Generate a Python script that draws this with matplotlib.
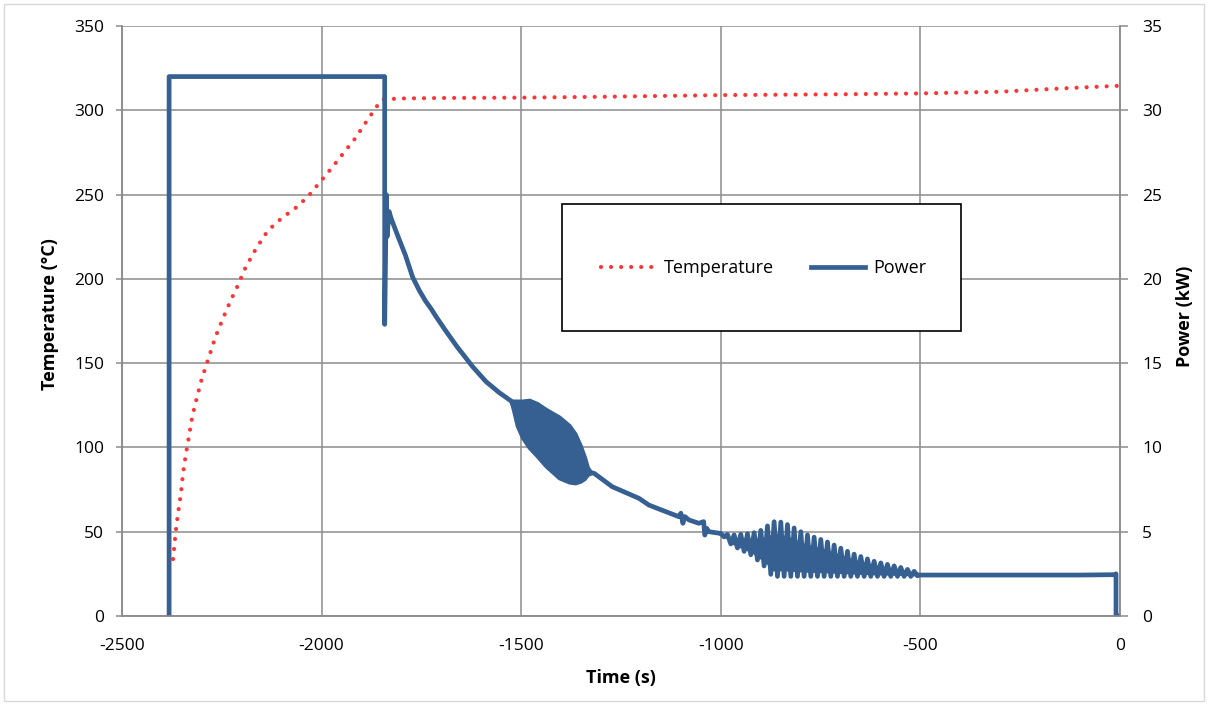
import numpy as np
from matplotlib import pyplot as plt
from matplotlib.patches import Rectangle

plt.rcParams['font.family'] = ['Open Sans', 'DejaVu Sans']
plt.rcParams['axes.unicode_minus'] = False

# temperature trace (left axis, degC)
temp_t = [-2372, -2365, -2359, -2352, -2347, -2340, -2332, -2324, -2313,
          -2301, -2286, -2266, -2248, -2230, -2210, -2192, -2169, -2145,
          -2133, -2100, -2060, -2030, -1974, -1917, -1863, -1847, -1800,
          -1700, -1500, -1300, -1000, -700, -500, -300, -200, -100, -5]
temp_c = [33.8, 51, 62, 73.5, 85, 96, 107, 118.4, 129,
          140, 151, 165.5, 176, 186, 196, 206, 216, 225,
          229, 236, 243, 250, 266, 283, 302, 306.5, 307,
          307.3, 307.5, 308, 309, 309.5, 310, 311, 312.3, 313.5, 314.5]

# power trace (right axis, kW) - heating step and decay
power_t = [-2382, -2382, -1842, -1842, -1838, -1836, -1831, -1826, -1810,
           -1800, -1790, -1772, -1755, -1740, -1725, -1713, -1690, -1660,
           -1640, -1622, -1588, -1555, -1525]
power_kw = [0, 32, 32, 17.3, 25.0, 22.5, 24.0, 23.6, 22.6,
            22.0, 21.4, 20.1, 19.3, 18.7, 18.2, 17.75, 16.95, 15.95,
            15.35, 14.8, 13.9, 13.25, 12.75]

# first (dense) oscillation band, envelope
osc1_t = [-1525, -1518, -1510, -1497, -1480, -1460, -1438, -1405, -1380,
          -1365, -1352, -1342, -1334, -1325]
osc1_hi = [12.75, 12.75, 12.75, 12.75, 12.8, 12.6, 12.25, 11.8, 11.3,
           10.8, 10.1, 9.45, 8.8, 8.5]
osc1_lo = [12.75, 12.1, 11.3, 10.6, 10.0, 9.5, 8.9, 8.2, 7.95,
           7.9, 8.0, 8.15, 8.4, 8.5]

mid_t = [-1317, -1272, -1205, -1180, -1105, -1100, -1095, -1090, -1080,
         -1055, -1043, -1040, -1035, -1030, -1001]
mid_kw = [8.46, 7.67, 6.98, 6.58, 5.89, 6.1, 5.5, 5.9, 5.7,
          5.5, 5.6, 4.8, 5.2, 5.0, 4.9]

# second oscillation band, envelope
osc2_t = [-1000, -972, -922, -897, -880, -872, -859, -830, -788, -738,
          -672, -613, -555, -513, -505]
osc2_hi = [4.9, 4.8, 4.9, 5.1, 5.4, 5.55, 5.65, 5.4, 4.85, 4.45,
           3.72, 3.22, 2.92, 2.63, 2.45]
osc2_lo = [4.9, 4.2, 3.6, 3.1, 2.7, 2.35, 2.35, 2.35, 2.35, 2.35,
           2.35, 2.35, 2.35, 2.35, 2.4]
osc2_half_period = 8.35

tail_t = [-505, -100, -15, -10, -10, -6]
tail_kw = [2.43, 2.43, 2.45, 2.5, 0, 0]

RED = '#ff3535'
BLUE = '#376092'
GRID = '#8c8c8c'

# build the power line
zz_t = np.arange(osc2_t[0], osc2_t[-1], osc2_half_period)
zz_hi = np.interp(zz_t, osc2_t, osc2_hi)
zz_lo = np.interp(zz_t, osc2_t, osc2_lo)
zz_kw = np.where(np.arange(len(zz_t)) % 2 == 0, zz_hi, zz_lo)
osc1_mid = (np.array(osc1_hi) + np.array(osc1_lo)) / 2
line_t = np.concatenate([power_t, osc1_t, mid_t, zz_t, tail_t])
line_kw = np.concatenate([power_kw, osc1_mid, mid_kw, zz_kw, tail_kw])

fig = plt.figure(figsize=(12.08, 7.04), dpi=100)
ax = fig.add_axes([122 / 1208, 88 / 704, 998 / 1208, 590 / 704])
ax2 = ax.twinx()

ax.plot(temp_t, temp_c, color=RED, lw=3.0, dashes=(0.01, 2.4),
        dash_capstyle='round', label='Temperature', zorder=3)
ax2.fill_between(osc1_t, osc1_lo, osc1_hi, color=BLUE, lw=3.0,
                 edgecolor=BLUE, joinstyle='round', zorder=2)
# inner part of the second band is solid, edges scalloped by the zigzag
osc2_span = np.array(osc2_hi) - np.array(osc2_lo)
ax2.fill_between(osc2_t, np.array(osc2_lo) + 0.1 * osc2_span,
                 np.array(osc2_hi) - 0.22 * osc2_span, color=BLUE, lw=0,
                 zorder=2)
ax2.plot(line_t, line_kw, color=BLUE, lw=3.4, solid_joinstyle='round',
         label='Power', zorder=2)

ax.set_xlim(-2500, 0)
ax.set_ylim(0, 350)
ax2.set_ylim(0, 35)
ax.set_xticks(np.arange(-2500, 1, 500))
ax.set_yticks(np.arange(0, 351, 50))
ax2.set_yticks(np.arange(0, 36, 5))
ax.grid(True, color=GRID, lw=1.1)
ax.set_axisbelow(True)

for a in (ax, ax2):
  a.spines['top'].set_visible(False)
  for side in ('left', 'right', 'bottom'):
    a.spines[side].set_color(GRID)
    a.spines[side].set_linewidth(1.1)
ax.tick_params(axis='x', length=0, pad=16, labelsize=12.5)
ax.tick_params(axis='y', length=4, color=GRID, width=1.1, pad=9,
               labelsize=12.5)
ax2.tick_params(axis='y', length=6, color=GRID, width=1.1, pad=10,
                labelsize=12.5)

fig.text(50 / 1208, 1 - 314 / 704, 'Temperature (°C)', rotation=90,
         ha='center', va='center', fontsize=13, fontweight='bold')
fig.text(1185 / 1208, 1 - 316 / 704, 'Power (kW)', rotation=90,
         ha='center', va='center', fontsize=13, fontweight='bold')
fig.text(621 / 1208, 1 - 678 / 704, 'Time (s)', ha='center', va='center',
         fontsize=13, fontweight='bold')

# legend box
fig.patches.append(Rectangle((562 / 1208, 1 - 331 / 704), 399 / 1208,
                             127 / 704, transform=fig.transFigure,
                             facecolor='white', edgecolor='black', lw=1.2,
                             zorder=5))
h1, l1 = ax.get_legend_handles_labels()
h2, l2 = ax2.get_legend_handles_labels()
leg = fig.legend(h1 + h2, l1 + l2, loc='center', ncol=2, frameon=False,
                 bbox_to_anchor=(764 / 1208, 1 - 268 / 704), fontsize=13,
                 handlelength=3.0, handletextpad=0.5, columnspacing=2.0)
leg.set_zorder(6)

# outer chart border
fig.patches.append(Rectangle((0.003, 0.004), 0.994, 0.991,
                             transform=fig.transFigure, facecolor='none',
                             edgecolor='#d9d9d9', lw=1.0))

plt.savefig('out.png', dpi=100)
